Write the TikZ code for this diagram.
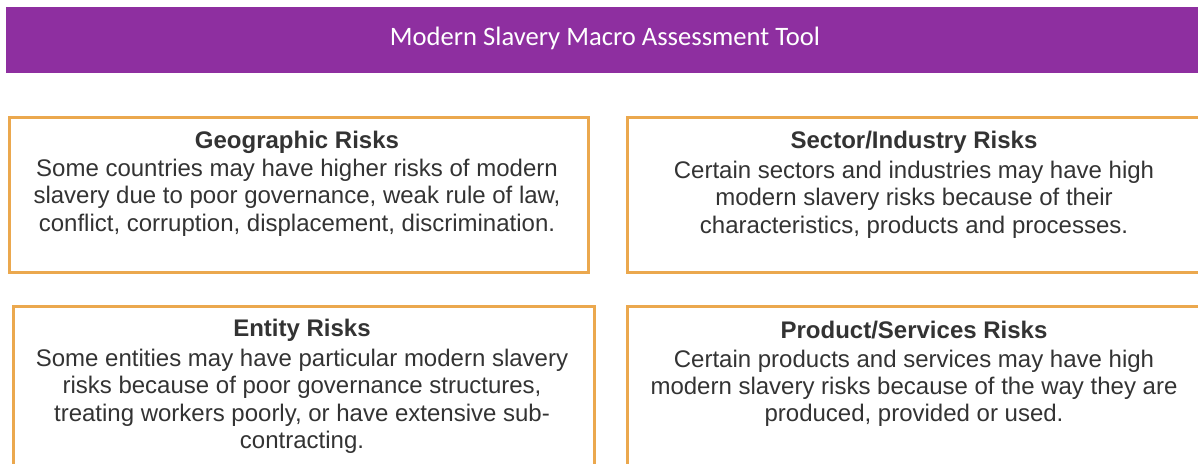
\documentclass[tikz,border=0pt]{standalone}
\usepackage{fontspec}
\setmainfont{Liberation Sans}
\newfontfamily\bannerfont{Carlito}
\usetikzlibrary{positioning}
\definecolor{slaverypurple}{HTML}{8E2FA0}
\definecolor{riskorange}{HTML}{EBA84E}
\definecolor{risktext}{HTML}{333333}
\tikzset{
	riskbox/.style={draw=riskorange, line width=1.5pt, fill=white, anchor=north west, inner sep=0pt},
	risktitle/.style={font=\fontsize{12}{13.5}\selectfont\bfseries, text=risktext},
	riskbody/.style={font=\fontsize{12}{13.6}\selectfont, text=risktext, align=center}
}

\begin{document}
\begin{tikzpicture}[x=0.5pt,y=-0.5pt]
	\useasboundingbox (0,0) rectangle (1198,464);
	% banner
	\fill[slaverypurple] (6,7) rectangle (1198,73);
	\node[text=white, font=\bannerfont\fontsize{13.3}{16}\selectfont] (banner) at (605,38){Modern Slavery Macro Assessment Tool};
	% boxes
	\node[riskbox, minimum width=289.5pt, minimum height=77.5pt] (geo) at (8,116){};
	\node[riskbox, minimum width=287pt, minimum height=77.5pt] (sector) at (626,116){};
	\node[riskbox, minimum width=290.5pt, minimum height=90pt] (entity) at (12,305){};
	\node[riskbox, minimum width=287pt, minimum height=90pt] (product) at (626,305){};
	% texts
	\node[risktitle] (geot) at (297,142){Geographic Risks};
	\node[riskbody, below=-4pt of geot] (geob){Some countries may have higher risks of modern\\slavery due to poor governance, weak rule of law,\\conflict, corruption, displacement, discrimination.};
	\node[risktitle] (sectort) at (914,142){Sector/Industry Risks};
	\node[riskbody, below=-3pt of sectort] (sectorb){Certain sectors and industries may have high\\modern slavery risks\ because of their\\characteristics, products and processes.};
	\node[risktitle] (entityt) at (302,330){Entity Risks};
	\node[riskbody, below=-3pt of entityt] (entityb){Some entities may have particular modern slavery\\risks because of poor governance structures,\\treating workers poorly, or have extensive sub-\\contracting.};
	\node[risktitle] (productt) at (914,330){Product/Services Risks};
	\node[riskbody, below=-1.5pt of productt] (productb){Certain products and services may have high\\modern slavery risks because of the way they are\\produced, provided or used.};
\end{tikzpicture}
\end{document}
